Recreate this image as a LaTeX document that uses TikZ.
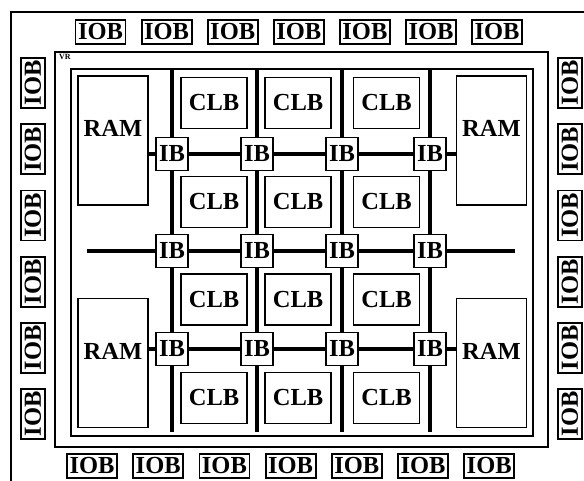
\documentclass[tikz,border=0pt]{standalone}
\usepackage{fontspec}
\setmainfont{Liberation Serif}
\begin{document}
\begin{tikzpicture}[x=1pt,y=-1pt,
  txt/.style={font=\fontsize{24.5}{24.5}\selectfont\bfseries},
  box/.style={draw,line width=1.4pt,fill=white,inner sep=0pt,txt},
  iob/.style={box,line width=1.8pt,minimum width=50pt,minimum height=24pt},
  clb/.style={box,minimum width=66pt,minimum height=51pt},
  ram/.style={box,minimum width=70pt,minimum height=129pt,
    label={[txt,yshift=12pt]center:RAM}},
  ib/.style={box,minimum width=32pt,minimum height=33pt},
  vbus/.style={line width=4.8pt},
  hbus/.style={line width=4.2pt},
  frame/.style={draw,line width=1.6pt}]
\useasboundingbox (0,0) rectangle (584,480);
% frames
\draw[frame] (11,12) rectangle (600,500);
\draw[frame,line width=1.4pt] (55,52) rectangle (548,447);
\draw[frame,line width=2pt] (71,69) rectangle (533,436);
\node[font=\fontsize{8}{8}\selectfont\bfseries,anchor=north west,inner sep=0pt] (vr) at (59,54) {VR};
% IOBs
\foreach \i in {0,...,6} {
  \node[iob] (t\i) at ({100.5+66.1*\i},32) {IOB};
  \node[iob] (b\i) at ({92+66.2*\i},466) {IOB};
}
\foreach \i in {0,...,5} {
  \node[iob,rotate=90] (l\i) at (33,{83+66.2*\i}) {IOB};
  \node[iob,rotate=90] (r\i) at (570,{83+66.2*\i}) {IOB};
}
% RAMs
\node[ram] (ramtl) at (113,140.5) {};
\node[ram] (ramtr) at (491.5,140.5) {};
\node[ram] (rambl) at (113,363) {};
\node[ram] (rambr) at (491.5,363) {};
% CLBs
\foreach \c/\x in {1/214,2/298,3/386.5} {
  \foreach \r/\y in {1/103,2/202,3/299.5,4/398} {
    \node[clb] (clb\r\c) at (\x,\y) {CLB};
  }
}
% IBs
\foreach \c/\x in {1/172,2/257,3/342,4/430} {
  \foreach \r/\y in {1/154,2/251,3/349} {
    \node[ib] (ib\r\c) at (\x,\y) {IB};
  }
  \coordinate (vt\c) at (\x,69);
  \coordinate (vb\c) at (\x,432);
}
\coordinate (mL) at (87,251);
\coordinate (mR) at (515,251);
% vertical buses
\foreach \c in {1,...,4} {
  \draw[vbus] (vt\c) -- (ib1\c) -- (ib2\c) -- (ib3\c) -- (vb\c);
}
% horizontal buses
\draw[hbus] (ramtl.east |- ib11) -- (ib11) -- (ib12) -- (ib13) -- (ib14) -- (ramtr.west |- ib14);
\draw[hbus] (mL) -- (ib21) -- (ib22) -- (ib23) -- (ib24) -- (mR);
\draw[hbus] (rambl.east |- ib31) -- (ib31) -- (ib32) -- (ib33) -- (ib34) -- (rambr.west |- ib34);
\end{tikzpicture}
\end{document}
